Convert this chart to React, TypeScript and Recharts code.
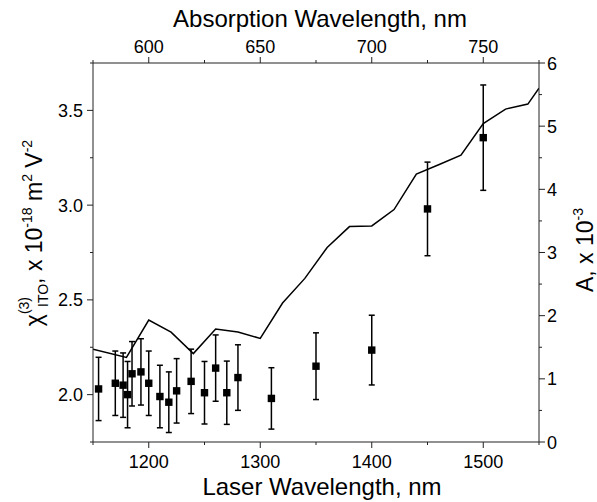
import { ComposedChart, XAxis, YAxis, ZAxis, Scatter, Line, ErrorBar } from 'recharts'

const FONT = '"Liberation Sans", Arial, Helvetica, sans-serif'
const INK = '#000'
const AXIS = '#222'

// chi(3) measurements vs laser wavelength
const laserNm = [1155, 1170, 1177, 1181, 1185, 1193, 1200, 1210, 1218, 1225, 1238, 1250, 1260, 1270, 1280, 1310, 1350, 1400, 1450, 1500]
const chi = [2.03, 2.06, 2.05, 2.0, 2.11, 2.12, 2.06, 1.99, 1.96, 2.02, 2.07, 2.01, 2.14, 2.01, 2.09, 1.98, 2.15, 2.235, 2.98, 3.356]
const chiErr = [0.167, 0.17, 0.17, 0.175, 0.17, 0.175, 0.17, 0.165, 0.16, 0.17, 0.17, 0.165, 0.175, 0.167, 0.173, 0.162, 0.176, 0.184, 0.247, 0.278]

// absorbance (x 10^-3) vs absorption wavelength (top axis)
const absNm = [575, 590, 600, 610, 620, 630, 640, 650, 660, 670, 680, 690, 700, 710, 720, 730, 740, 750, 760, 770, 775]
const absorbance = [1.47, 1.34, 1.93, 1.74, 1.4, 1.79, 1.74, 1.64, 2.2, 2.59, 3.08, 3.41, 3.42, 3.68, 4.24, 4.39, 4.54, 5.04, 5.27, 5.35, 5.6]

const laserTicks = [1150, 1200, 1250, 1300, 1350, 1400, 1450, 1500, 1550]
const laserLabels = [1200, 1300, 1400, 1500]
const absTicks = [575, 600, 625, 650, 675, 700, 725, 750, 775]
const absLabels = [600, 650, 700, 750]
const chiTicks = [1.75, 2.0, 2.25, 2.5, 2.75, 3.0, 3.25, 3.5, 3.75]
const chiLabels = [2.0, 2.5, 3.0, 3.5]
const aTicks = [0, 0.5, 1, 1.5, 2, 2.5, 3, 3.5, 4, 4.5, 5, 5.5, 6]
const aLabels = [0, 1, 2, 3, 4, 5, 6]

const points = laserNm.map((x, i) => ({ x, y: chi[i], err: chiErr[i] }))
const absData = absNm.map((x, i) => ({ x, a: absorbance[i] }))

type Side = 'bottom' | 'top' | 'left' | 'right'

function makeTick(side: Side, labels: number[], digits: number) {
  return (props: any) => {
    const { x, y, payload } = props
    const v = payload.value as number
    const major = labels.includes(v)
    const len = major ? 6 : 3
    const label = major ? v.toFixed(digits) : ''
    const t = { fontSize: 18, fontFamily: FONT, fill: INK }
    if (side === 'bottom') {
      return (
        <g>
          <line x1={x} y1={y} x2={x} y2={y + len} stroke={AXIS} />
          {major && <text x={x} y={y + 26} textAnchor="middle" {...t}>{label}</text>}
        </g>
      )
    }
    if (side === 'top') {
      return (
        <g>
          <line x1={x} y1={y} x2={x} y2={y - len} stroke={AXIS} />
          {major && <text x={x} y={y - 10} textAnchor="middle" {...t}>{label}</text>}
        </g>
      )
    }
    if (side === 'left') {
      return (
        <g>
          <line x1={x} y1={y} x2={x - len} y2={y} stroke={AXIS} />
          {major && <text x={x - 10} y={y + 6.5} textAnchor="end" {...t}>{label}</text>}
        </g>
      )
    }
    return (
      <g>
        <line x1={x} y1={y} x2={x + len} y2={y} stroke={AXIS} />
        {major && <text x={x + 8} y={y + 6.5} textAnchor="start" {...t}>{label}</text>}
      </g>
    )
  }
}

function BottomTitle() {
  return (
    <text x={322} y={495} textAnchor="middle" fontSize={24} fontFamily={FONT} fill={INK}>
      Laser Wavelength, nm
    </text>
  )
}

function TopTitle() {
  return (
    <text x={320} y={27} textAnchor="middle" fontSize={24} fontFamily={FONT} fill={INK}>
      Absorption Wavelength, nm
    </text>
  )
}

function LeftTitle() {
  return (
    <text
      x={42}
      y={233}
      transform="rotate(-90 42 233)"
      textAnchor="middle"
      fontSize={23}
      fontFamily={FONT}
      fill={INK}
    >
      χ
      <tspan fontSize={14} dy={-13}>(3)</tspan>
      <tspan fontSize={14} dx={-10} dy={19}>ITO</tspan>
      <tspan dy={-6}>, x 10</tspan>
      <tspan fontSize={14} dy={-10}>-18</tspan>
      <tspan dy={10}> m</tspan>
      <tspan fontSize={14} dy={-10}>2</tspan>
      <tspan dy={10}> V</tspan>
      <tspan fontSize={14} dy={-10}>-2</tspan>
    </text>
  )
}

function RightTitle() {
  return (
    <text
      x={593}
      y={250}
      transform="rotate(-90 593 250)"
      textAnchor="middle"
      fontSize={23}
      fontFamily={FONT}
      fill={INK}
    >
      A, x 10
      <tspan fontSize={14} dy={-10}>-3</tspan>
    </text>
  )
}

export default function App() {
  return (
    <div style={{ position: 'absolute', left: 0, top: 0 }}>
      <ComposedChart width={597} height={502} margin={{ top: 0, right: 0, bottom: 0, left: 0 }}>
        <XAxis
          xAxisId="bottom"
          dataKey="x"
          type="number"
          domain={[1150, 1550]}
          ticks={laserTicks}
          interval={0}
          allowDataOverflow
          height={60}
          axisLine={{ stroke: AXIS }}
          tickLine={false}
          tickSize={0}
          tickMargin={0}
          tick={makeTick('bottom', laserLabels, 0)}
          label={<BottomTitle />}
        />
        <XAxis
          xAxisId="top"
          orientation="top"
          dataKey="x"
          type="number"
          domain={[575, 775]}
          ticks={absTicks}
          interval={0}
          allowDataOverflow
          height={63}
          axisLine={{ stroke: AXIS }}
          tickLine={false}
          tickSize={0}
          tickMargin={0}
          tick={makeTick('top', absLabels, 0)}
          label={<TopTitle />}
        />
        <YAxis
          yAxisId="left"
          type="number"
          domain={[1.75, 3.75]}
          ticks={chiTicks}
          interval={0}
          allowDataOverflow
          width={93}
          axisLine={{ stroke: AXIS }}
          tickLine={false}
          tickSize={0}
          tickMargin={0}
          tick={makeTick('left', chiLabels, 1)}
          label={<LeftTitle />}
        />
        <YAxis
          yAxisId="right"
          orientation="right"
          type="number"
          domain={[0, 6]}
          ticks={aTicks}
          interval={0}
          allowDataOverflow
          width={58}
          axisLine={{ stroke: AXIS }}
          tickLine={false}
          tickSize={0}
          tickMargin={0}
          tick={makeTick('right', aLabels, 0)}
          label={<RightTitle />}
        />
        <ZAxis range={[55, 55]} />
        <Line
          data={absData}
          xAxisId="top"
          yAxisId="right"
          dataKey="a"
          type="linear"
          stroke={INK}
          strokeWidth={1.5}
          dot={false}
          activeDot={false}
          isAnimationActive={false}
        />
        <Scatter
          data={points}
          xAxisId="bottom"
          yAxisId="left"
          dataKey="y"
          fill={INK}
          shape="square"
          isAnimationActive={false}
        >
          <ErrorBar dataKey="err" direction="y" width={3} stroke={INK} strokeWidth={1.5} isAnimationActive={false} />
        </Scatter>
      </ComposedChart>
    </div>
  )
}
